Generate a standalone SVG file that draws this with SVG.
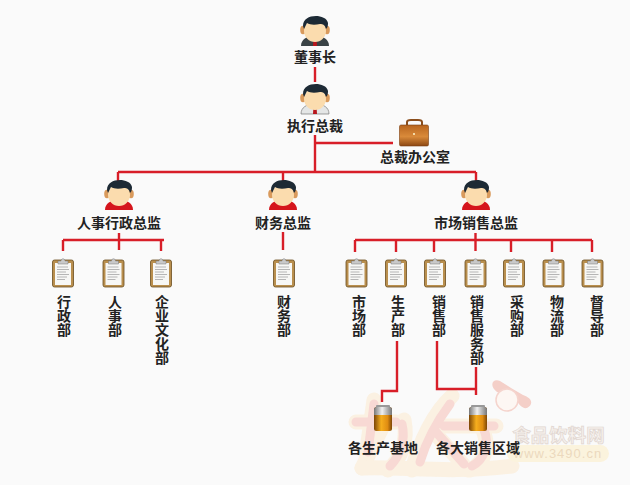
<svg xmlns="http://www.w3.org/2000/svg" width="630" height="485" viewBox="0 0 630 485">
<style>
.l{font-family:"Noto Sans CJK SC","Liberation Sans",sans-serif;font-size:14px;font-weight:700;fill:#222;text-anchor:middle}
.v{font-family:"Noto Sans CJK SC","Liberation Sans",sans-serif;font-size:14px;font-weight:700;fill:#222;writing-mode:vertical-rl;text-orientation:upright}
.c{fill:none;stroke:#d81e28;stroke-width:2.400}
.wm{fill:none;stroke:#fbf1e2;stroke-width:15;stroke-linecap:round;stroke-linejoin:round}
.wp{fill:none;stroke:#f8d9d4;stroke-width:9;stroke-linecap:round;stroke-linejoin:round}
</style>
<defs>
<linearGradient id="bat" x1="0" x2="1" y1="0" y2="0"><stop offset="0" stop-color="#7c4506"/><stop offset=".4" stop-color="#f6ae1e"/><stop offset=".75" stop-color="#e08d12"/><stop offset="1" stop-color="#7f4807"/></linearGradient>
<linearGradient id="batTop" x1="0" x2="1" y1="0" y2="0"><stop offset="0" stop-color="#777"/><stop offset=".45" stop-color="#f0f0f0"/><stop offset="1" stop-color="#777"/></linearGradient>
<linearGradient id="case" x1="0" x2="0" y1="0" y2="1"><stop offset="0" stop-color="#b8651e"/><stop offset=".55" stop-color="#d98a3a"/><stop offset="1" stop-color="#8c4712"/></linearGradient>
<g id="head">
<ellipse cx="-12" cy="13" rx="2.800" ry="4.200" fill="#d99a5c"/><ellipse cx="12" cy="13" rx="2.800" ry="4.200" fill="#d99a5c"/>
<ellipse cx="0" cy="14" rx="11" ry="11" fill="#fbdcae"/>
<path d="M-12 9C-12 2-6-1 1-1C6-1 12 1 13 6C13 10 12 11 11 12C10 8 8 7 5 7C0 8-5 8-8 6C-9 8-10 10-11 12Z" fill="#1d2a35"/>
</g>
<g id="dark"><path d="M-14 29C-14 22-8 20-4 19L4 19C8 20 14 22 14 29Z" fill="#3a4346"/><path d="M-4 19L0 24L4 19Z" fill="#fff"/><path d="M-1.500 22H1.500L2 29H-2Z" fill="#b8161c"/><use href="#head"/></g>
<g id="light"><path d="M-14 29C-14 22-8 20-4 19L4 19C8 20 14 22 14 29Z" fill="#e4e6e6" stroke="#777" stroke-width=".7"/><path d="M-1.500 21H1.500L2 29H-2Z" fill="#b8161c"/><use href="#head"/></g>
<g id="red"><path d="M-14 29C-14 22-8 20-4 19L4 19C8 20 14 22 14 29Z" fill="#d5151c"/><path d="M-4 19L0 23L4 19Z" fill="#fbdcae"/><use href="#head"/></g>
<g id="clip">
<rect x="-10.500" y="2" width="21" height="27" rx="2" fill="#b98f4e" stroke="#6a4c1e" stroke-width=".8"/>
<rect x="-8" y="5" width="16" height="22" fill="#f7f7f5"/>
<path d="M-6 9H5M-6 11.500H6M-6 14H3M-6 16.500H6M-6 19H4M-6 21.500H2" stroke="#b5b5b5" stroke-width="1"/>
<path d="M-5 6V3H-2C-2 0 2 0 2 3H5V6Z" fill="#c9c9c9" stroke="#777" stroke-width=".5"/>
</g>
<g id="bty">
<rect x="-7" y="0" width="14" height="3" rx="1" fill="#999"/>
<rect x="-9" y="2" width="18" height="24" rx="2.500" fill="url(#bat)"/>
<path d="M-9 4.500C-9 3-8 2-6.500 2H6.500C8 2 9 3 9 4.500V10H-9Z" fill="url(#batTop)"/>
</g>
</defs>
<rect width="630" height="485" fill="#fafafa"/>
<g id="watermark">
<g class="wm">
<path d="M356 422H396M374 400L366 456M384 424L362 468M404 420C408 440 402 458 388 470"/>
<path d="M412 470C420 442 434 412 452 396M442 426H496M482 428C490 444 486 462 470 470M432 430L468 470"/>
<path d="M362 468C400 466 450 474 512 466"/>
</g>
<g class="wp">
<path d="M356 422H396M374 404L368 452M402 424C406 440 400 456 390 466"/>
<path d="M420 462C426 442 438 420 450 404M444 426H494M484 430C490 444 484 460 472 466M436 432L464 464"/>
</g>
<path d="M497 392C489 386 492 378 500 381L511 388L523 395C532 398 534 404 527 408C522 409 519 404 516 400Z" fill="#f4cfc8"/>
<circle cx="507" cy="400" r="11" fill="#fdf7f3" stroke="#f5d4cd" stroke-width="1.500"/>
<rect x="507" y="445" width="102" height="17" rx="8.500" fill="#fbf3dd"/>
<text x="558.500" y="442" style="font-family:'Noto Sans CJK SC',sans-serif;font-size:18.500px;font-weight:700;text-anchor:middle;fill:#f6f0ec;stroke:#e0d5cf;stroke-width:.7">食品饮料网</text>
<text x="558" y="458" style="font-family:'Liberation Sans',sans-serif;font-size:13px;letter-spacing:1px;text-anchor:middle;fill:#ecd9bd">www.3490.cn</text>
</g>
<g id="connectors" class="c">
<path d="M315 67V82M315 135V172M315 143H393M118 172H476M118 172V182M283 172V182M476 172V182"/>
<path d="M63 240H164M63 240V251M119 233V250M161 240V251M283 232V250"/>
<path d="M355 240H592M355 240V252M396 240V252M434 240V252M475.500 233V251M511 240V252M552 240V252M592 240V252"/>
<path d="M397 341V391H382V402M437 341V389H476M476 367V395"/>
</g>
<g id="n-chairman"><use href="#dark" x="315" y="17"/><text class="l" x="315" y="62">董事长</text></g>
<g id="n-ceo"><use href="#light" x="315" y="85"/><text class="l" x="315" y="131">执行总裁</text></g>
<g id="n-office">
<path d="M407 125V122C407 120 409 120 411 120H418C420 120 422 120 422 122V125" fill="none" stroke="#8a4d1c" stroke-width="2"/>
<rect x="399.500" y="125" width="29" height="21" rx="1.500" fill="url(#case)" stroke="#7a3e10" stroke-width=".6"/>
<rect x="413" y="133" width="2" height="2" fill="#f2d9a6"/>
<text class="l" x="415" y="162">总裁办公室</text></g>
<g id="n-hr"><use href="#red" x="119" y="181"/><text class="l" x="119" y="228">人事行政总监</text></g>
<g id="n-fin"><use href="#red" x="283" y="181"/><text class="l" x="283" y="228">财务总监</text></g>
<g id="n-mkt"><use href="#red" x="476" y="181"/><text class="l" x="476" y="228">市场销售总监</text></g>
<g id="d-xz"><use href="#clip" x="63" y="258"/><text class="v" x="64" y="295">行政部</text></g>
<g id="d-rs"><use href="#clip" x="113.500" y="258"/><text class="v" x="115" y="295">人事部</text></g>
<g id="d-qy"><use href="#clip" x="161" y="258"/><text class="v" x="162" y="295">企业文化部</text></g>
<g id="d-cw"><use href="#clip" x="284" y="258"/><text class="v" x="284" y="295">财务部</text></g>
<g id="d-sc"><use href="#clip" x="356.500" y="258"/><text class="v" x="359" y="295">市场部</text></g>
<g id="d-scb"><use href="#clip" x="396" y="258"/><text class="v" x="398" y="295">生产部</text></g>
<g id="d-xs"><use href="#clip" x="435" y="258"/><text class="v" x="439" y="295">销售部</text></g>
<g id="d-xsfw"><use href="#clip" x="475.500" y="258"/><text class="v" x="477" y="295">销售服务部</text></g>
<g id="d-cg"><use href="#clip" x="514" y="258"/><text class="v" x="517" y="295">采购部</text></g>
<g id="d-wl"><use href="#clip" x="553.500" y="258"/><text class="v" x="557" y="295">物流部</text></g>
<g id="d-dd"><use href="#clip" x="592.500" y="258"/><text class="v" x="597" y="295">督导部</text></g>
<g id="n-base"><use href="#bty" x="383" y="405"/><text class="l" x="383" y="453">各生产基地</text></g>
<g id="n-region"><use href="#bty" x="478" y="405"/><text class="l" x="478" y="453">各大销售区域</text></g>
</svg>
